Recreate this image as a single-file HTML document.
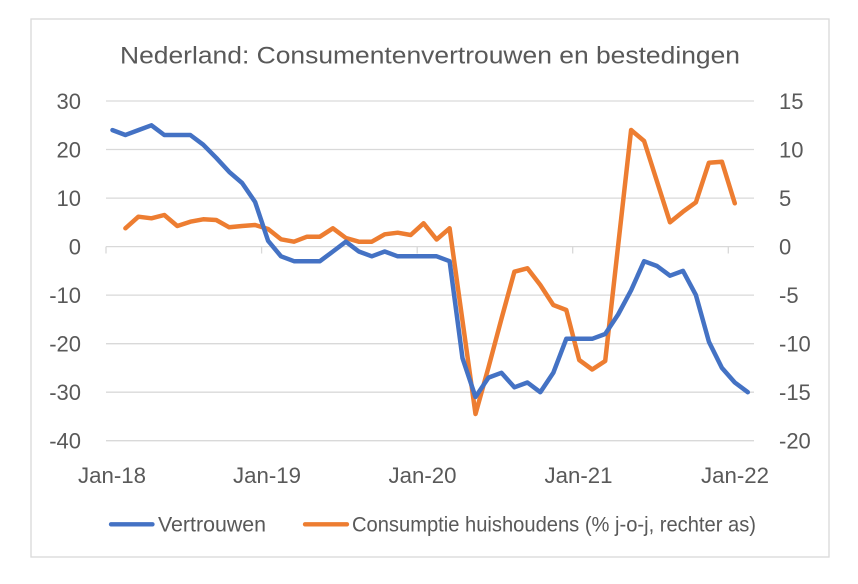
<!DOCTYPE html>
<html><head><meta charset="utf-8"><style>
html,body{margin:0;padding:0;background:#fff;}
svg{display:block;}
text{font-family:"Liberation Sans",Arial,sans-serif;fill:#595959;}
</style></head><body>
<svg width="858" height="584" viewBox="0 0 858 584" xmlns="http://www.w3.org/2000/svg">
<rect x="0" y="0" width="858" height="584" fill="#fff"/>
<rect x="31" y="19" width="798" height="538" fill="#fff" stroke="#d9d9d9" stroke-width="1.3"/>
<text x="430" y="63.5" font-size="24.5" text-anchor="middle" textLength="620" lengthAdjust="spacingAndGlyphs">Nederland: Consumentenvertrouwen en bestedingen</text>
<g stroke="#d9d9d9" stroke-width="1.3" fill="none">
<line x1="106" y1="101" x2="754" y2="101"/>
<line x1="106" y1="149.5" x2="754" y2="149.5"/>
<line x1="106" y1="198.1" x2="754" y2="198.1"/>
<line x1="106" y1="246.6" x2="754" y2="246.6"/>
<line x1="106" y1="295.1" x2="754" y2="295.1"/>
<line x1="106" y1="343.7" x2="754" y2="343.7"/>
<line x1="106" y1="392.2" x2="754" y2="392.2"/>
<line x1="106" y1="440.7" x2="754" y2="440.7"/>
<line x1="106" y1="246.6" x2="106" y2="253.5"/>
<line x1="261.6" y1="246.6" x2="261.6" y2="253.5"/>
<line x1="417.2" y1="246.6" x2="417.2" y2="253.5"/>
<line x1="572.7" y1="246.6" x2="572.7" y2="253.5"/>
<line x1="728.3" y1="246.6" x2="728.3" y2="253.5"/>
</g>
<g font-size="22" text-anchor="end">
<text x="81" y="109">30</text>
<text x="81" y="157.5">20</text>
<text x="81" y="206">10</text>
<text x="81" y="254.6">0</text>
<text x="81" y="303.1">-10</text>
<text x="81" y="351.7">-20</text>
<text x="81" y="400.2">-30</text>
<text x="81" y="448.7">-40</text>
</g>
<g font-size="22" text-anchor="start">
<text x="779" y="109">15</text>
<text x="779" y="157.5">10</text>
<text x="779" y="206">5</text>
<text x="779" y="254.6">0</text>
<text x="779" y="303.1">-5</text>
<text x="779" y="351.7">-10</text>
<text x="779" y="400.2">-15</text>
<text x="779" y="448.7">-20</text>
</g>
<g font-size="22" text-anchor="middle">
<text x="112" y="483" textLength="68" lengthAdjust="spacingAndGlyphs">Jan-18</text>
<text x="267" y="483" textLength="68" lengthAdjust="spacingAndGlyphs">Jan-19</text>
<text x="422.5" y="483" textLength="68" lengthAdjust="spacingAndGlyphs">Jan-20</text>
<text x="578.5" y="483" textLength="68" lengthAdjust="spacingAndGlyphs">Jan-21</text>
<text x="735" y="483" textLength="68" lengthAdjust="spacingAndGlyphs">Jan-22</text>
</g>
<polyline fill="none" stroke="#ED7D31" stroke-width="4.5" stroke-linejoin="round" stroke-linecap="round" points="125.4,228.3 138.4,216.7 151.4,218.3 164.3,215 177.3,226 190.3,221.7 203.2,219.3 216.2,220 229.2,227.3 242.1,226 255.1,225 268.1,229 281.0,239.3 294.0,241.7 307.0,236.7 319.9,236.7 332.9,228.3 345.9,238 358.8,241.7 371.8,241.7 384.7,234.3 397.7,232.7 410.7,235 423.6,223.3 436.6,239.5 449.6,228.3 475.5,414 488.5,367.3 501.4,319 514.4,271.7 527.4,268.3 540.3,285 553.3,305 566.3,310 579.2,360 592.2,369.5 605.2,361 631.1,130 644.1,141 670.0,222.3 683.0,211.7 695.9,202.3 708.9,162.7 721.9,161.7 734.8,203.3"/>
<polyline fill="none" stroke="#4472C4" stroke-width="4.5" stroke-linejoin="round" stroke-linecap="round" points="112.5,130.1 125.4,135.0 138.4,130.1 151.4,125.3 164.3,135.0 177.3,135.0 190.3,135.0 203.2,144.7 216.2,157.8 229.2,171.9 242.1,183.0 255.1,202.0 268.1,240.8 281.0,256.3 294.0,261.2 307.0,261.2 319.9,261.2 332.9,251.5 345.9,241.7 358.8,251.5 371.8,256.3 384.7,251.5 397.7,256.3 410.7,256.3 423.6,256.3 436.6,256.3 449.6,261.2 462.5,358.2 475.5,397.0 488.5,377.6 501.4,372.8 514.4,387.3 527.4,382.5 540.3,392.2 553.3,372.8 566.3,338.8 579.2,338.8 592.2,338.8 605.2,334.0 618.1,314.5 631.1,290.3 644.1,261.2 657.0,266.0 670.0,275.7 683.0,270.9 695.9,295.1 708.9,341.7 721.9,367.9 734.8,382.5 747.8,392.2"/>
<line x1="111" y1="524.3" x2="152.5" y2="524.3" stroke="#4472C4" stroke-width="4.3" stroke-linecap="round"/>
<text x="158" y="531.5" font-size="21" textLength="108" lengthAdjust="spacingAndGlyphs">Vertrouwen</text>
<line x1="305" y1="524.3" x2="347" y2="524.3" stroke="#ED7D31" stroke-width="4.3" stroke-linecap="round"/>
<text x="352" y="531.5" font-size="21" textLength="404" lengthAdjust="spacingAndGlyphs">Consumptie huishoudens (% j-o-j, rechter as)</text>
</svg>
</body></html>
